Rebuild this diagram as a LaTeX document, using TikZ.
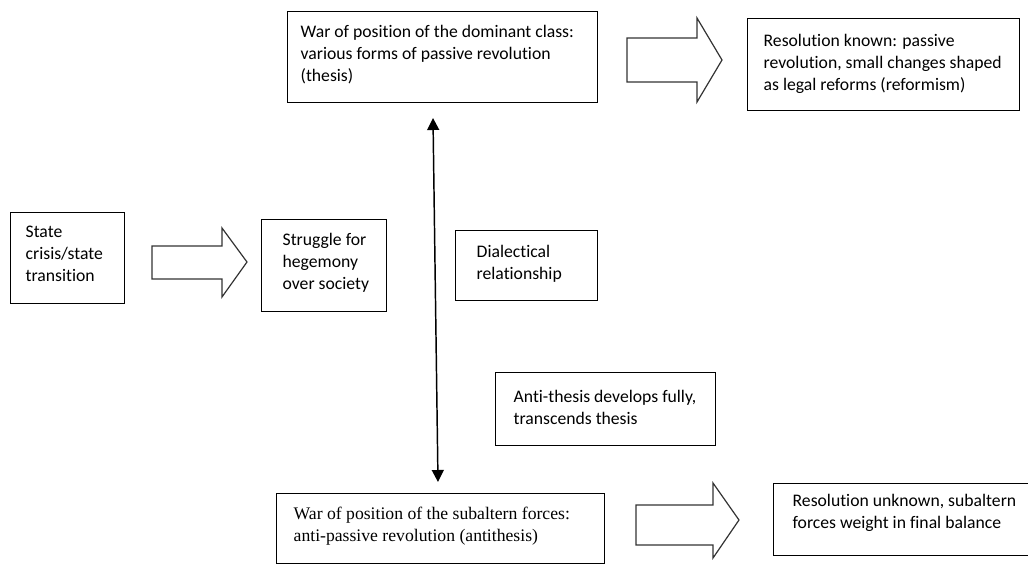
\documentclass[tikz,border=0pt]{standalone}
\usepackage{fontspec}
\setmainfont{Carlito}[RawFeature={-liga}]
\newfontfamily\tnr{Liberation Serif}
\usetikzlibrary{arrows.meta}
% width, height, left pad, first baseline offset (all in px), text
\newcommand\bx[5]{\parbox[b][\dimexpr#2pt*3/4\relax][t]{\dimexpr#1pt*3/4\relax}{\raggedright\leftskip=\dimexpr#3pt*3/4\relax
\vspace*{\dimexpr#4pt*3/4-11pt\relax}\rule{0pt}{11pt}#5\par}}
\begin{document}
\begin{tikzpicture}[x=0.75pt,y=-0.75pt,
 box/.style={draw, line width=1pt, anchor=north west, inner sep=0pt, font=\fontsize{13.25pt}{16.5pt}\selectfont},
 blockarrow/.style={draw=black!80, line width=0.9pt, fill=white, line join=miter},
 dbl/.style={line width=1.1pt, {Triangle[width=9pt,length=9pt]}-{Triangle[width=9pt,length=9pt]}}]
\useasboundingbox (0,0) rectangle (1028,565);
\node[box] (thesis) at (287,11) {\bx{310}{91}{13}{26}{War of position of the dominant class:\\various forms of passive revolution\\(thesis)}};
\node[box] (known) at (747,18) {\bx{272}{92}{16}{28}{Resolution known: passive\\revolution, small changes shaped\\as legal reforms (reformism)}};
\node[box] (crisis) at (10,212) {\bx{114}{91}{15}{25}{State\\crisis/state\\transition}};
\node[box] (struggle) at (261,219) {\bx{125}{92}{21}{26}{Struggle for\\hegemony\\over society}};
\node[box] (dialect) at (455,230) {\bx{142}{70}{21}{27}{Dialectical\\relationship}};
\node[box] (anti) at (495,372) {\bx{220}{73}{18}{30}{Anti-thesis develops fully,\\transcends thesis}};
\node[box] (antithesis) at (276,493) {\bx{328}{70}{17}{26}{\tnr War of position of the subaltern forces:\\anti-passive revolution (antithesis)}};
\node[box] (unknown) at (773,483) {\bx{265}{72}{19}{23}{Resolution unknown, subaltern\\forces weight in final balance}};
% block arrows
\draw[blockarrow] (627,38) -- (697,38) -- (697,18) -- (722,60) -- (697,102) -- (697,82) -- (627,82) -- cycle;
\draw[blockarrow] (152,246) -- (222,246) -- (222,228) -- (247,262) -- (222,297) -- (222,279) -- (152,279) -- cycle;
\draw[blockarrow] (636,505) -- (713,505) -- (713,483) -- (739,520) -- (713,558) -- (713,545) -- (636,545) -- cycle;
% dialectical double arrow
\coordinate (dtop) at (433,118);
\coordinate (dbot) at (438,482);
\draw[dbl] (dtop) -- (dbot);
\end{tikzpicture}
\end{document}
